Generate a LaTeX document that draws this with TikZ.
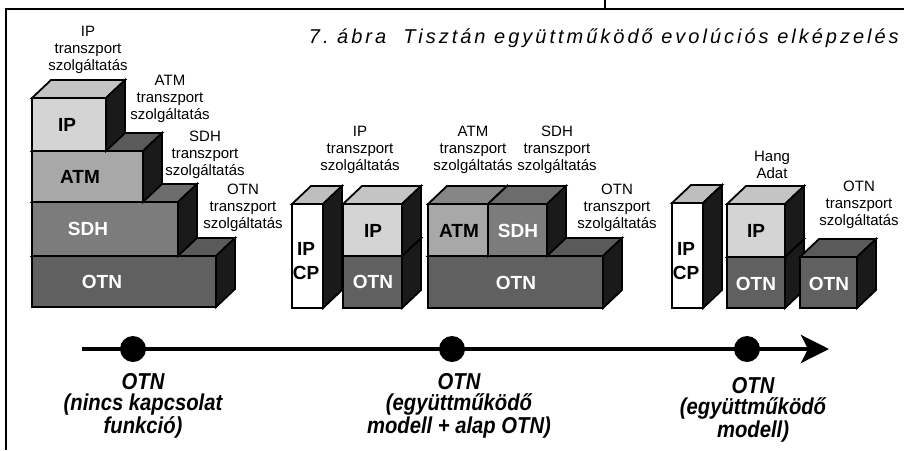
\documentclass[tikz,border=0pt]{standalone}
\usepackage{fontspec}
\setmainfont{Liberation Sans}
\newfontfamily\condfont[FakeStretch=0.88]{Liberation Sans}
\newfontfamily\spacedfont[LetterSpace=15]{Liberation Sans}
\usetikzlibrary{arrows.meta}
\definecolor{ipfront}{RGB}{212,212,212}
\definecolor{iptop}{RGB}{196,196,196}
\definecolor{atmfront}{RGB}{168,168,168}
\definecolor{atmtop}{RGB}{134,134,134}
\definecolor{sdhfront}{RGB}{124,124,124}
\definecolor{sdhtop}{RGB}{108,108,108}
\definecolor{otnfront}{RGB}{96,96,96}
\definecolor{otntop}{RGB}{90,90,90}
\definecolor{cptop}{RGB}{190,190,190}
\definecolor{sideblk}{RGB}{26,26,26}
\tikzset{
  edge/.style={draw=black, line width=1.8pt, line join=miter},
  lbl/.style={font=\fontsize{15}{17}\selectfont, align=center, inner sep=0pt},
  blab/.style={font=\fontsize{19}{24}\selectfont\bfseries, align=center, inner sep=0pt},
  wlab/.style={blab, text=white},
  tlab/.style={font=\condfont\fontsize{23}{21}\selectfont\bfseries\itshape, align=center, inner sep=0pt},
  tdot/.style={circle, fill=black, inner sep=0pt, minimum size=26pt},
  tarr/.style={-{Stealth[length=28pt, width=28pt, inset=7pt]}, line width=4pt},
  ttl/.style={font=\spacedfont\fontsize{20}{22}\selectfont\itshape, inner sep=0pt},
  frm/.style={line width=1.2pt},
}
% box: x1, y1, x2, y2, front colour, top colour
\newcommand{\slab}[6]{%
  \filldraw[edge, fill=#6] (#1,#2) -- (#1+19,#2-18) -- (#3+19,#2-18) -- (#3,#2) -- cycle;
  \filldraw[edge, fill=sideblk] (#3,#2) -- (#3+19,#2-18) -- (#3+19,#4-18) -- (#3,#4) -- cycle;
  \filldraw[edge, fill=#5] (#1,#2) rectangle (#3,#4);
}

\begin{document}
\begin{tikzpicture}[x=1pt, y=-1pt]
  \useasboundingbox (0,0) rectangle (904,450);
  \draw[frm] (6,450) -- (6,9) -- (904,9);
  \draw[frm] (605,0) -- (605,9);
  \node[ttl, anchor=east] (title) at (899,38) {7.\ ábra\ \ Tisztán együttműködő evolúciós elképzelés};

  % left stack
  \slab{32}{256}{216}{307}{otnfront}{otntop}
  \slab{32}{202}{178}{256}{sdhfront}{sdhtop}
  \slab{32}{151}{143}{202}{atmfront}{otntop}
  \slab{32}{98}{106}{151}{ipfront}{iptop}
  \node[wlab] (otn1) at (102,282) {OTN};
  \node[wlab] (sdh1) at (88,229) {SDH};
  \node[blab] (atm1) at (80,177) {ATM};
  \node[blab] (ip1) at (67,125) {IP};
  \node[lbl] (ipsrv1) at (88,50) {IP\\transzport\\szolgáltatás};
  \node[lbl] (atmsrv1) at (170,99) {ATM\\transzport\\szolgáltatás};
  \node[lbl] (sdhsrv1) at (205,155) {SDH\\transzport\\szolgáltatás};
  \node[lbl] (otnsrv1) at (243,208) {OTN\\transzport\\szolgáltatás};

  % middle
  \slab{292}{204}{323}{308}{white}{cptop}
  \slab{343}{256}{402}{308}{otnfront}{otntop}
  \slab{343}{204}{402}{256}{ipfront}{iptop}
  \slab{428}{256}{603}{308}{otnfront}{otntop}
  \slab{428}{204}{488}{256}{atmfront}{atmtop}
  \slab{488}{204}{547}{256}{sdhfront}{sdhtop}
  \node[blab] (cp2) at (306,261) {IP\\CP};
  \node[blab] (ip2) at (373,231) {IP};
  \node[wlab] (otn2) at (373,282) {OTN};
  \node[blab] (atm2) at (459,231) {ATM};
  \node[wlab] (sdh2) at (518,231) {SDH};
  \node[wlab] (otn3) at (516,283) {OTN};
  \node[lbl] (ipsrv2) at (360,150) {IP\\transzport\\szolgáltatás};
  \node[lbl] (atmsrv2) at (473,150) {ATM\\transzport\\szolgáltatás};
  \node[lbl] (sdhsrv2) at (557,150) {SDH\\transzport\\szolgáltatás};
  \node[lbl] (otnsrv2) at (617,208) {OTN\\transzport\\szolgáltatás};

  % right
  \slab{672}{203}{703}{308}{white}{cptop}
  \slab{727}{257}{785}{308}{otnfront}{otntop}
  \slab{727}{204}{785}{257}{ipfront}{iptop}
  \slab{800}{257}{857}{308}{otnfront}{otntop}
  \node[blab] (cp3) at (686,261) {IP\\CP};
  \node[blab] (ip3) at (756,231) {IP};
  \node[wlab] (otn4) at (756,284) {OTN};
  \node[wlab] (otn5) at (829,284) {OTN};
  \node[lbl] (voice) at (772,165) {Hang\\Adat};
  \node[lbl] (otnsrv3) at (859,205) {OTN\\transzport\\szolgáltatás};

  % timeline
  \coordinate (tstart) at (82,349);
  \coordinate (tend) at (829,349);
  \draw[tarr] (tstart) -- (tend);
  \node[tdot] (d1) at (133,349) {};
  \node[tdot] (d2) at (452,349) {};
  \node[tdot] (d3) at (747,349) {};
  \node[tlab] (t1) at (143,406) {OTN\\(nincs kapcsolat\\funkció)};
  \node[tlab] (t2) at (459,406) {OTN\\(együttműködő\\modell + alap OTN)};
  \node[tlab] (t3) at (753,410) {OTN\\(együttműködő\\modell)};
\end{tikzpicture}
\end{document}
